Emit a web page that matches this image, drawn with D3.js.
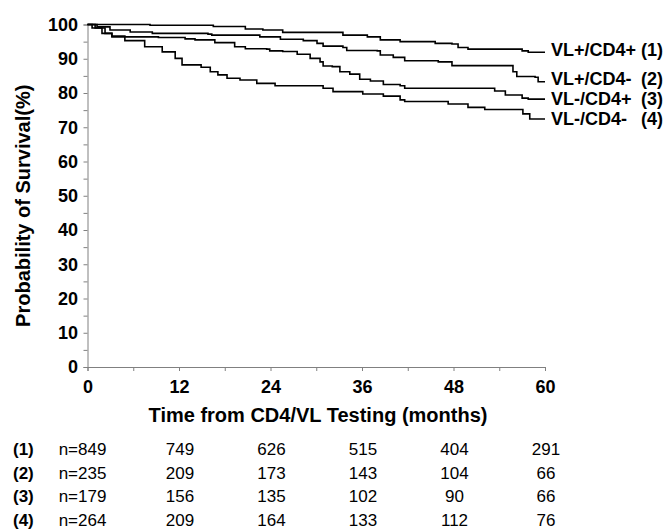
<!DOCTYPE html>
<html>
<head>
<meta charset="utf-8">
<script src="https://cdn.jsdelivr.net/npm/d3@7"></script>
<style>
  body { margin: 0; background: #fff; }
  text { font-family: "Liberation Sans", Arial, sans-serif; }
</style>
</head>
<body>
<div id="chart"></div>
<script>
// survival curves (months, % surviving)
var months1 = [0, 8.2, 16.5, 20.7, 23.0, 25.6, 33.5, 36.7, 38.4, 41.0, 45.2, 45.6, 47.8, 48.6, 49.9, 57.0, 57.8, 60];
var surv1   = [100, 99.8, 99.4, 98.7, 98.4, 97.7, 96.9, 96.4, 95.5, 95.0, 95.0, 94.5, 94.3, 93.3, 92.8, 92.3, 91.9, 91.9];

var months2 = [0, 1.25, 2.95, 5.6, 8.5, 15.8, 16.3, 22.2, 22.6, 25.3, 28.3, 30.1, 30.9, 33.5, 34.0, 38.0, 38.4, 40.1, 41.6, 46.0, 47.8, 54.8, 55.8, 56.3, 58.7, 59.1, 60];
var surv2   = [100, 99.3, 98.4, 97.8, 97.4, 97.2, 96.9, 96.9, 96.4, 95.7, 95.3, 94.5, 93.7, 93.3, 92.4, 92.3, 91.1, 90.4, 89.4, 89.1, 88.0, 88.0, 86.2, 84.8, 84.6, 83.3, 83.3];

var months3 = [0, 1.0, 2.3, 3.2, 9.3, 12.8, 14.1, 16.7, 19.3, 20.7, 23.5, 23.9, 25.6, 27.5, 29.2, 30.5, 30.9, 32.1, 33.1, 34.4, 35.7, 37.1, 38.8, 41.0, 41.6, 51.7, 53.4, 54.8, 57.0, 57.8, 60];
var surv3   = [100, 99.0, 97.4, 96.4, 96.2, 95.8, 95.5, 94.7, 93.5, 92.9, 92.8, 92.3, 92.1, 91.3, 90.1, 89.1, 87.9, 87.7, 86.2, 85.5, 84.0, 83.5, 82.5, 82.1, 81.4, 81.4, 80.6, 79.4, 78.5, 78.2, 78.2];

var months4 = [0, 0.6, 1.9, 3.2, 4.9, 7.5, 9.8, 11.5, 12.4, 14.9, 16.1, 17.1, 18.3, 20.0, 22.2, 24.6, 28.8, 30.9, 32.2, 35.3, 36.1, 38.8, 41.0, 41.6, 46.0, 47.3, 49.9, 52.1, 56.5, 57.1, 58.0, 60];
var surv4   = [100, 99.0, 97.4, 96.6, 95.3, 93.5, 92.0, 90.1, 88.2, 87.5, 86.2, 85.3, 84.3, 83.8, 82.8, 82.1, 82.1, 81.4, 80.4, 80.4, 79.7, 79.1, 78.0, 77.5, 77.5, 76.8, 75.8, 75.2, 75.2, 73.9, 72.4, 72.4];

var groupNames = ["VL+/CD4+", "VL+/CD4-", "VL-/CD4+", "VL-/CD4-"];
var groupNums  = ["(1)", "(2)", "(3)", "(4)"];

// numbers at risk
var riskMonths = [0, 12, 24, 36, 48, 60];
var risk1 = [849, 749, 626, 515, 404, 291];
var risk2 = [235, 209, 173, 143, 104, 66];
var risk3 = [179, 156, 135, 102, 90, 66];
var risk4 = [264, 209, 164, 133, 112, 76];

var monthTicks = [0, 6, 12, 18, 24, 30, 36, 42, 48, 54, 60];
var survTicks = [0, 5, 10, 15, 20, 25, 30, 35, 40, 45, 50, 55, 60, 65, 70, 75, 80, 85, 90, 95, 100];

var width = 668, height = 531;
var margin = {top: 24.5, right: 123, bottom: 164, left: 87.5};

var svg = d3.select("#chart").append("svg")
    .attr("width", width)
    .attr("height", height);

var x = d3.scaleLinear().domain([0, 60]).range([margin.left, width - margin.right]);
var y = d3.scaleLinear().domain([0, 100]).range([height - margin.bottom, margin.top]);

// y axis
var yAxis = svg.append("g")
    .attr("transform", "translate(" + margin.left + ",0)")
    .call(d3.axisLeft(y).tickValues(survTicks).tickSize(4).tickPadding(5.5)
        .tickFormat(function(d) { return d % 10 === 0 ? d : ""; }));
yAxis.selectAll("path, line").attr("stroke", "#808080");
yAxis.selectAll("text")
    .attr("fill", "#000")
    .style("font-size", "18px")
    .style("font-weight", "bold");

// x axis
var xAxis = svg.append("g")
    .attr("transform", "translate(0," + y(0) + ")")
    .call(d3.axisBottom(x).tickValues(monthTicks).tickSize(4).tickPadding(9)
        .tickFormat(function(d) { return d % 12 === 0 ? d : ""; }));
xAxis.selectAll("path, line").attr("stroke", "#808080");
xAxis.selectAll("text")
    .attr("fill", "#000")
    .style("font-size", "18px")
    .style("font-weight", "bold");

// axis titles
svg.append("text")
    .attr("transform", "translate(30," + ((y(0) + y(100)) / 2 + 10) + ") rotate(-90)")
    .attr("text-anchor", "middle")
    .style("font-size", "20px")
    .style("font-weight", "bold")
    .text("Probability of Survival(%)");

svg.append("text")
    .attr("x", 318)
    .attr("y", 422)
    .attr("text-anchor", "middle")
    .style("font-size", "20px")
    .style("font-weight", "bold")
    .text("Time from CD4/VL Testing (months)");

// curves
var curves = [
  {t: months1, s: surv1},
  {t: months2, s: surv2},
  {t: months3, s: surv3},
  {t: months4, s: surv4}
];
var labelShift = [-3, -3, -1, -1];

var line = d3.line()
    .x(function(d) { return x(d[0]); })
    .y(function(d) { return y(d[1]); })
    .curve(d3.curveStepAfter);

curves.forEach(function(c, i) {
  var pts = c.t.map(function(t, j) { return [t, c.s[j]]; });
  svg.append("path")
    .attr("d", line(pts))
    .attr("fill", "none")
    .attr("stroke", "#000")
    .attr("stroke-width", 1.6);

  var ly = y(c.s[c.s.length - 1]) + labelShift[i] + 6.5;
  svg.append("text")
    .attr("x", x(60) + 6)
    .attr("y", ly)
    .style("font-size", "18px")
    .style("font-weight", "bold")
    .text(groupNames[i]);
  svg.append("text")
    .attr("x", 663)
    .attr("y", ly)
    .attr("text-anchor", "end")
    .style("font-size", "18px")
    .style("font-weight", "bold")
    .text(groupNums[i]);
});

// numbers at risk table
var riskRows = [risk1, risk2, risk3, risk4];
riskRows.forEach(function(row, i) {
  var ry = 455 + i * 23.6;
  svg.append("text")
    .attr("x", 13)
    .attr("y", ry)
    .style("font-size", "17px")
    .style("font-weight", "bold")
    .text(groupNums[i]);
  row.forEach(function(v, j) {
    svg.append("text")
      .attr("x", j === 0 ? x(riskMonths[j]) - 5 : x(riskMonths[j]) + 1)
      .attr("y", ry)
      .attr("text-anchor", "middle")
      .style("font-size", "17px")
      .text(j === 0 ? "n=" + v : v);
  });
});
</script>
</body>
</html>
